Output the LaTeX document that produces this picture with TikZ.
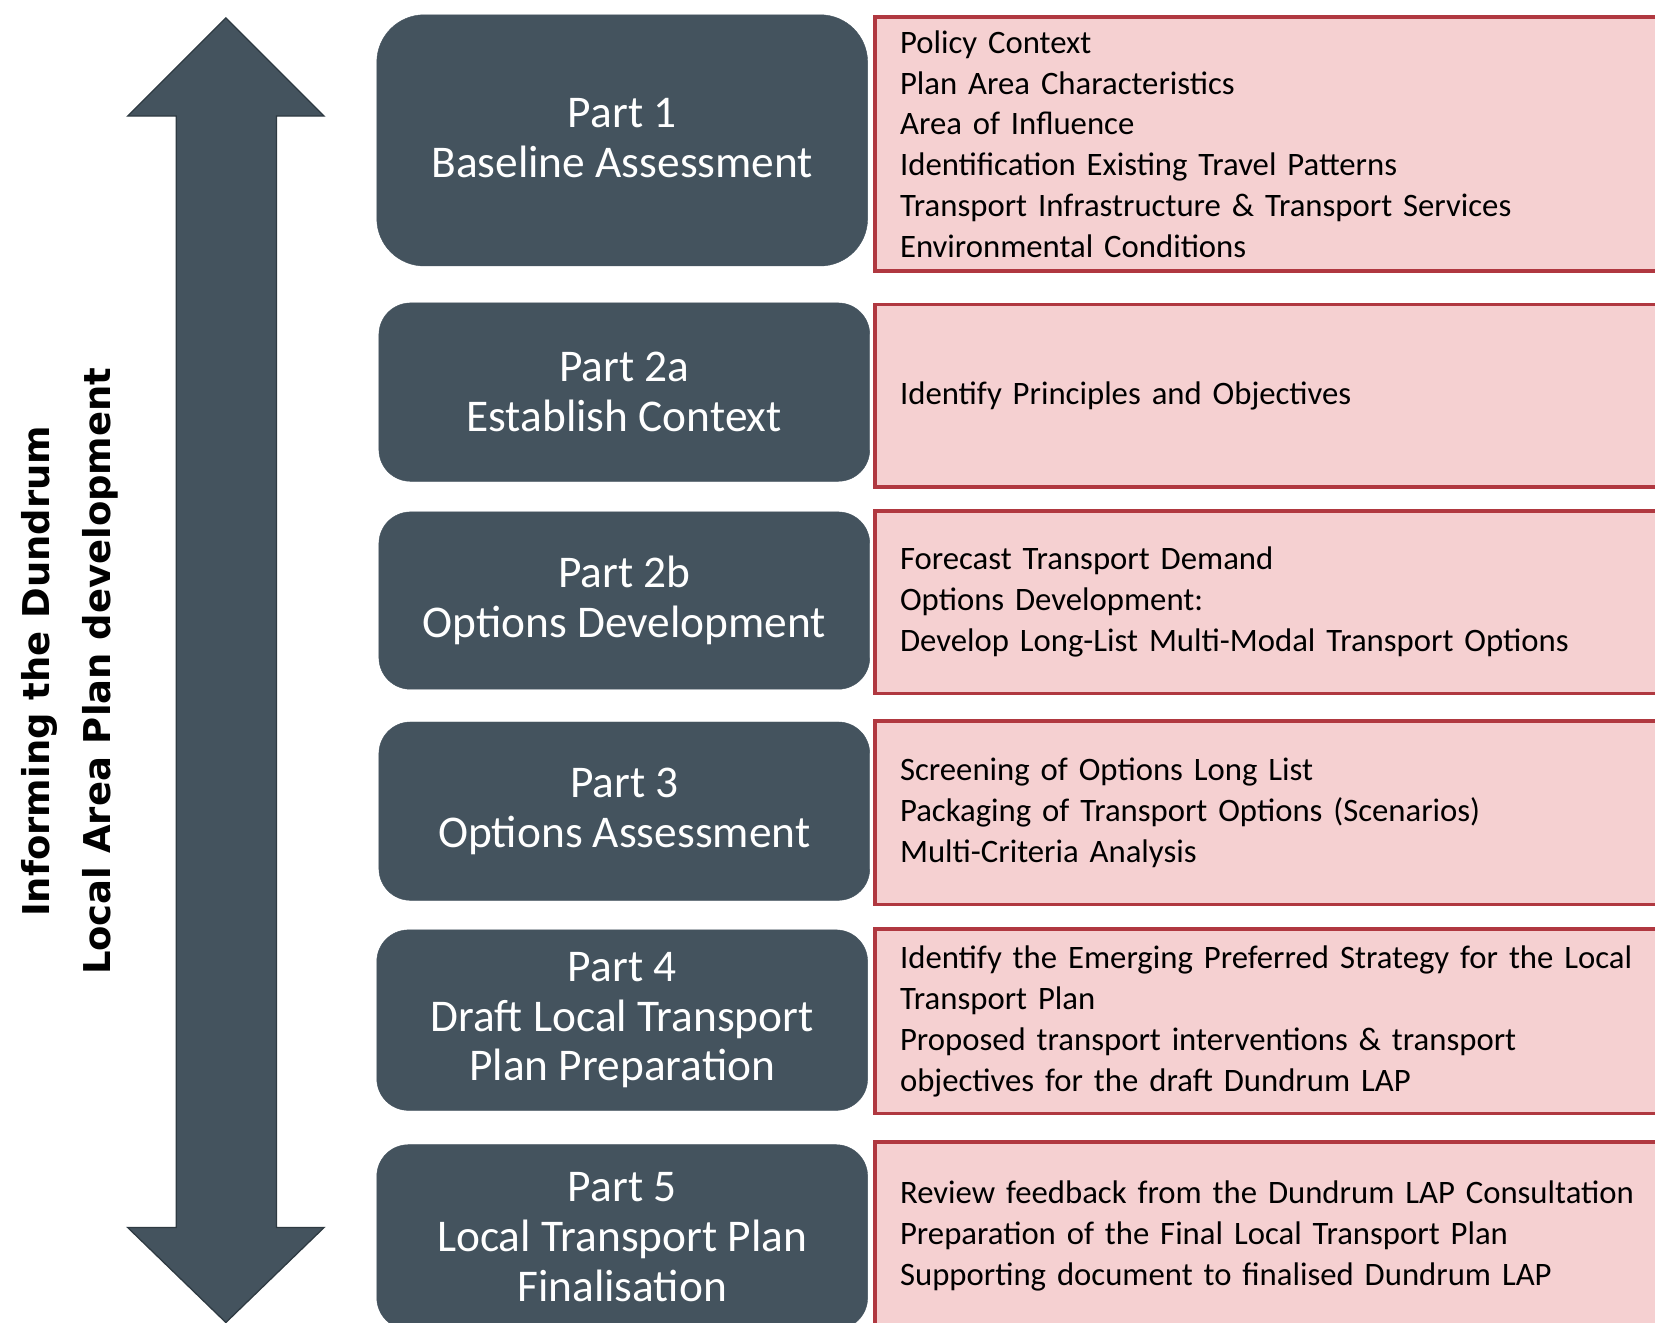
\documentclass[tikz,border=0pt]{standalone}
\usepackage{fontspec}
\setmainfont{Carlito}
\newfontfamily\sidefont{DejaVu Sans}
\usepackage{xcolor}
\usepackage{tikz}
\usetikzlibrary{positioning}
\definecolor{slate}{HTML}{44535E}
\definecolor{slateedge}{HTML}{2E3A42}
\definecolor{pinkfill}{HTML}{F5D0D1}
\definecolor{redline}{HTML}{B03840}

\begin{document}
\begin{tikzpicture}[x=1pt,y=-1pt,
	partbox/.style={fill=slate,draw=slate,rounded corners=30pt,minimum width=465pt,text=white,align=center,font=\fontsize{43}{47}\selectfont},
	detailbox/.style={fill=pinkfill,draw=redline,line width=3.5pt,anchor=west,text width=720pt,inner xsep=24pt,align=left,font=\fontsize{31}{38.7}\selectfont}]
	\useasboundingbox (0,0) rectangle (1568,1253);
	\clip (0,0) rectangle (1568,1253);
	% double arrow on the left
	\draw[fill=slate,draw=slateedge,line width=1.2pt] (214,17) -- (307,110) -- (262,110) -- (262,1163) -- (307,1163) -- (214,1253)
		-- (121,1163) -- (167,1163) -- (167,110) -- (121,110) -- cycle;
	\node[rotate=90,align=center,font=\sidefont\bfseries\fontsize{35}{58}\selectfont] (side) at (66,636) {Informing the Dundrum\\Local Area Plan development};
	% parts
	\node[partbox,rounded corners=45pt,minimum height=238pt] (p1) at (589.5,133) {Part 1\\Baseline Assessment\vspace{4pt}};
	\node[partbox,minimum height=169pt] (p2a) at (591.5,371.5) {Part 2a\\Establish Context};
	\node[partbox,minimum height=168pt] (p2b) at (591.5,569) {Part 2b\\Options Development};
	\node[partbox,minimum height=169pt] (p3) at (591.5,768.5) {Part 3\\Options Assessment};
	\node[partbox,minimum height=171pt] (p4) at (589.5,966.5) {Part 4\\Draft Local Transport\\Plan Preparation};
	\node[partbox,minimum height=175pt] (p5) at (589.5,1172) {Part 5\\Local Transport Plan\\Finalisation};
	% details
	\node[detailbox,minimum height=241pt] (d1) at (827,136.5) {Policy Context\\Plan Area Characteristics\\Area of Influence\\Identification Existing Travel Patterns\\Transport Infrastructure \& Transport Services\\Environmental Conditions};
	\node[detailbox,minimum height=173pt] (d2a) at (827,375) {Identify Principles and Objectives};
	\node[detailbox,minimum height=173pt] (d2b) at (827,570.5) {Forecast Transport Demand\\Options Development:\\Develop Long-List Multi-Modal Transport Options};
	\node[detailbox,minimum height=174pt] (d3) at (827,770) {Screening of Options Long List\\Packaging of Transport Options (Scenarios)\\Multi-Criteria Analysis};
	\node[detailbox,minimum height=175pt] (d4) at (827,967.5) {Identify the Emerging Preferred Strategy for the Local\\Transport Plan\\Proposed transport interventions \& transport\\objectives for the draft Dundrum LAP};
	\node[detailbox,minimum height=178pt] (d5) at (827,1171) {Review feedback from the Dundrum LAP Consultation\\Preparation of the Final Local Transport Plan\\Supporting document to finalised Dundrum LAP};
\end{tikzpicture}
\end{document}
